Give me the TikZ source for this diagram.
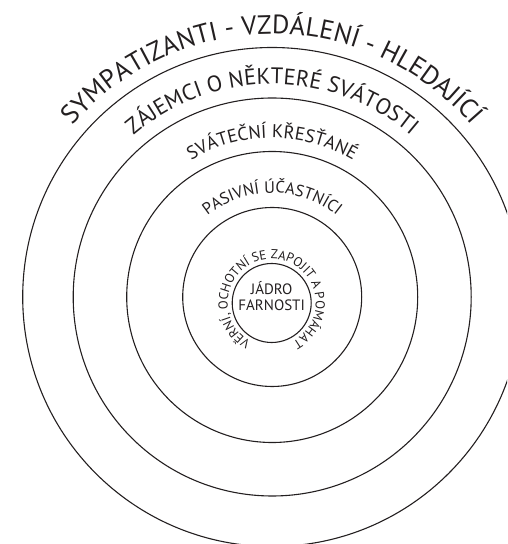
\documentclass[tikz,border=0pt]{standalone}
\usepackage{fontspec}
\setmainfont{PT Sans}
\usetikzlibrary{decorations.text}
\definecolor{ink}{HTML}{231F20}
\begin{document}
\begin{tikzpicture}[x=1pt,y=1pt,
  ring/.style={circle, draw=ink, line width=1.1pt, inner sep=0pt, minimum size=#1},
  curved/.style 2 args={decorate, decoration={text along path, text align=center, text color=ink,
     text={|\fontsize{#1}{#1}\selectfont|#2}}}]
\useasboundingbox (0,0) rectangle (507,544);
\clip (0,0) rectangle (507,544);
\coordinate (C) at (272.2,247);
\coordinate (J) at (271.7,241);
\node[ring=499pt] (r1) at (C) {};
\node[ring=398pt] (r2) at (C) {};
\node[ring=291pt] (r3) at (C) {};
\node[ring=179pt] (r4) at (C) {};
\node[ring=79pt] (r5) at (J) {};
\path[curved={26.5}{SYMPATIZANTI - VZDÁLENÍ - HLEDAJÍCÍ}]
  (C) ++(170:263pt) arc[start angle=170, end angle=10, radius=263pt];
\path[curved={22.5}{ZÁJEMCI O NĚKTERÉ SVÁTOSTI}]
  (C) ++(170:213pt) arc[start angle=170, end angle=10, radius=213pt];
\path[curved={18.5}{SVÁTEČNÍ KŘESŤANÉ}]
  (C) ++(170:159pt) arc[start angle=170, end angle=10, radius=159pt];
\path[curved={16.5}{PASIVNÍ ÚČASTNÍCI}]
  (C) ++(170:104pt) arc[start angle=170, end angle=10, radius=104pt];
\path[curved={13}{VĚRNÍ, OCHOTNÍ SE ZAPOJIT A POMÁHAT}]
  (J) ++(269:44pt) arc[start angle=269, end angle=-89, radius=44pt];
\node[font=\fontsize{15}{16.5}\selectfont, text=ink, align=center, inner sep=0pt] (core) at (271.7,248) {JÁDRO\\FARNOSTI};
\end{tikzpicture}
\end{document}
